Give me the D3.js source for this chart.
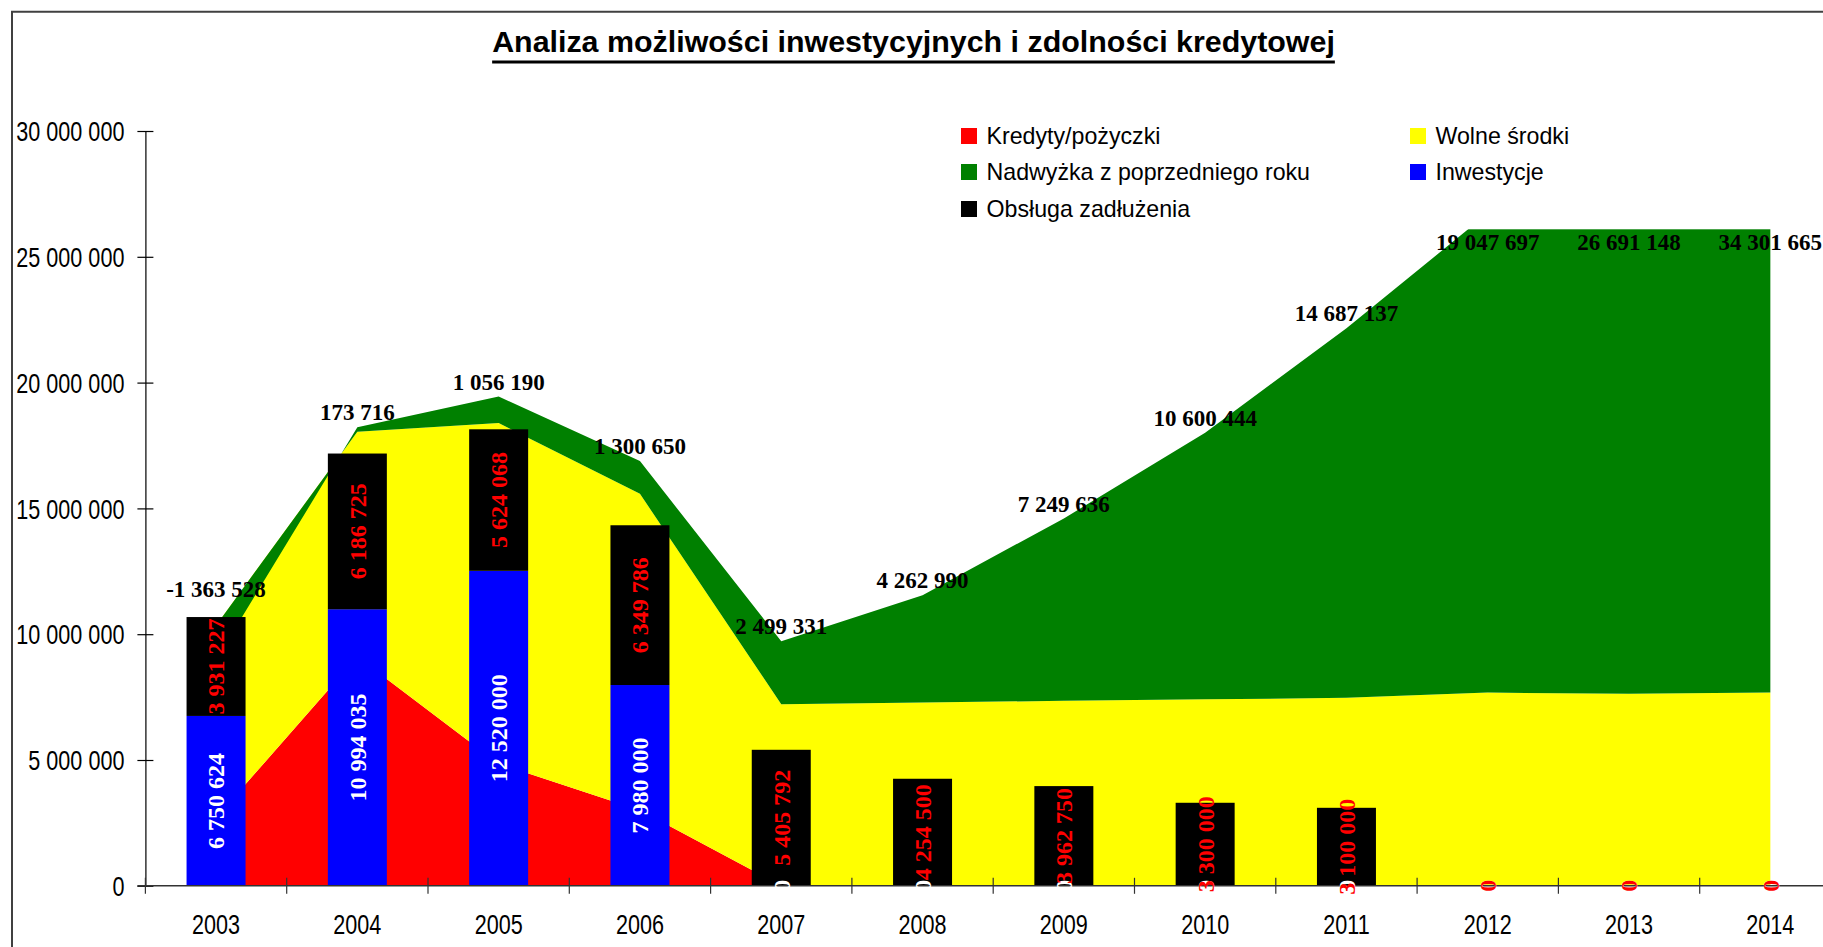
<!DOCTYPE html>
<html>
<head>
<meta charset="utf-8">
<script src="https://cdn.jsdelivr.net/npm/d3@7"></script>
<style>
  html, body { margin: 0; padding: 0; background: #fff; overflow: hidden; }
  svg { display: block; }
</style>
</head>
<body>
<svg id="chart" width="1823" height="947"></svg>
<script>
// ---------------- DATA ----------------
const categories = ["2003","2004","2005","2006","2007","2008","2009","2010","2011","2012","2013","2014"];
const kredyty    = [2700000, 9100000, 4850000, 3000000, 0, 0, 0, 0, 0, 0, 0, 0];
const wolneSrodki = [7650000, 8950000, 13540000, 12580000, 7220000, 7290000, 7350000, 7410000, 7470000, 7680000, 7630000, 7680000];
const nadwyzka   = [-1363528, 173716, 1056190, 1300650, 2499331, 4262990, 7249636, 10600444, 14687137, 19047697, 26691148, 34301665];
const inwestycje = [6750624, 10994035, 12520000, 7980000, 0, 0, 0, 0, 0, 0, 0, 0];
const obsluga    = [3931227, 6186725, 5624068, 6349786, 5405792, 4254500, 3962750, 3300000, 3100000, 0, 0, 0];
const yTicks     = [0, 5000000, 10000000, 15000000, 20000000, 25000000, 30000000];
const seriesNames = {
  kredyty: "Kredyty/pożyczki",
  wolne: "Wolne środki",
  nadwyzka: "Nadwyżka z poprzedniego roku",
  inwestycje: "Inwestycje",
  obsluga: "Obsługa zadłużenia"
};
const titleText = "Analiza możliwości inwestycyjnych i zdolności kredytowej";

// ---------------- STYLE / LAYOUT ----------------
const W = 1823, H = 947;
const colors = { kredyty: "#FF0000", wolne: "#FFFF00", nadwyzka: "#008000", inwestycje: "#0000FF", obsluga: "#000000" };
const plot = { left: 145.4, right: 1841, top: 131, bottom: 885.8 };
const sansFont = "'Liberation Sans', Arial, sans-serif";
const serifFont = "'Liberation Serif', 'Times New Roman', serif";
const narrowScale = 0.8; // Arial Narrow look: Arial squeezed horizontally

const fmt = d3.formatLocale({ decimal: ",", thousands: " ", grouping: [3], currency: ["", ""], minus: "-" }).format(",");

const svg = d3.select("#chart");
svg.append("rect").attr("width", W).attr("height", H).attr("fill", "#fff");

// scales
const x = d3.scaleBand().domain(categories).range([plot.left, plot.right]).padding(0);
const cx = c => x(c) + x.bandwidth() / 2;
const barW = x.bandwidth() * 0.4175;
const y = d3.scaleLinear().domain([0, 30000000]).range([plot.bottom, plot.top]);

svg.append("clipPath").attr("id", "plotClip").append("rect")
  .attr("x", plot.left).attr("y", y(30000000)).attr("width", plot.right - plot.left).attr("height", H - y(30000000));

// ---------------- AREAS ----------------
const areaRows = categories.map((c, i) => ({ cat: c, kredyty: kredyty[i], wolne: wolneSrodki[i], nadwyzka: nadwyzka[i] }));
const areaStack = d3.stack().keys(["kredyty", "wolne", "nadwyzka"]).offset(d3.stackOffsetNone)(areaRows);
const area = d3.area().x(d => cx(d.data.cat)).y0(d => y(d[0])).y1(d => y(d[1]));

svg.append("g").attr("clip-path", "url(#plotClip)").selectAll("path").data(areaStack).join("path")
  .attr("d", area).attr("fill", d => colors[d.key]).attr("stroke", "none");

// ---------------- BARS ----------------
const barRows = categories.map((c, i) => ({ cat: c, inwestycje: inwestycje[i], obsluga: obsluga[i] }));
const barStack = d3.stack().keys(["inwestycje", "obsluga"])(barRows);
const gBars = svg.append("g");
barStack.forEach(s => {
  gBars.append("g").selectAll("rect").data(s).join("rect")
    .attr("x", d => cx(d.data.cat) - barW / 2)
    .attr("width", barW)
    .attr("y", d => y(d[1]))
    .attr("height", d => y(d[0]) - y(d[1]))
    .attr("fill", colors[s.key]);
});

// ---------------- LEGEND (white box, covers area above its bottom) ----------------
const legend = { x: 945, y: 100, w: 900, h: 129.3, col: [961, 1410], row: [136, 172, 209], sq: 16 };
svg.append("rect").attr("x", legend.x).attr("y", legend.y).attr("width", legend.w).attr("height", legend.h).attr("fill", "#fff");
const legendItems = ["kredyty", "wolne", "nadwyzka", "inwestycje", "obsluga"];
const gLeg = svg.append("g");
legendItems.forEach((k, i) => {
  const lx = legend.col[i % 2], ly = legend.row[Math.floor(i / 2)];
  gLeg.append("rect").attr("x", lx).attr("y", ly - legend.sq / 2).attr("width", legend.sq).attr("height", legend.sq).attr("fill", colors[k]);
  gLeg.append("text").attr("x", lx + 25.5).attr("y", ly).attr("dy", "0.35em")
    .attr("font-family", sansFont).attr("font-size", 23.2).attr("fill", "#000").text(seriesNames[k]);
});

// ---------------- AXES ----------------
const gy = svg.append("g").attr("transform", `translate(${plot.left},0)`)
  .call(d3.axisLeft(y).tickValues(yTicks).tickFormat(fmt).tickSizeInner(8).tickSizeOuter(0).tickPadding(13));
gy.select(".domain").attr("stroke", "#000").attr("stroke-width", 1.2);
gy.selectAll(".tick line").attr("x1", 8).attr("stroke", "#000").attr("stroke-width", 1.2);
gy.selectAll(".tick text").each(function () {
  const t = d3.select(this);
  const tx = +t.attr("x");
  t.attr("x", 0).attr("transform", `translate(${tx},0) scale(${narrowScale},1)`);
}).attr("font-family", sansFont).attr("font-size", 27).attr("fill", "#000").attr("dy", "0.36em");

// x axis
const gx = svg.append("g").attr("transform", `translate(0,${plot.bottom})`);
gx.append("line").attr("x1", plot.left - 8).attr("x2", W).attr("y1", 0).attr("y2", 0).attr("stroke", "#333").attr("stroke-width", 1.6);
const edges = categories.map(c => x(c)).concat([x.range()[1]]);
gx.selectAll("line.tk").data(edges).join("line").attr("class", "tk")
  .attr("x1", d => d).attr("x2", d => d).attr("y1", -8).attr("y2", 8).attr("stroke", "#333").attr("stroke-width", 1.2);
gx.selectAll("text").data(categories).join("text")
  .attr("transform", d => `translate(${cx(d)},29.5) scale(${narrowScale},1)`)
  .attr("dy", "0.71em").attr("text-anchor", "middle")
  .attr("font-family", sansFont).attr("font-size", 27).attr("fill", "#000").text(d => d);

// ---------------- BAR LABELS ----------------
const gBL = svg.append("g");
const labelColor = { inwestycje: "#FFFFFF", obsluga: "#FF0000" };
barStack.forEach(s => {
  gBL.append("g").selectAll("text").data(s).join("text")
    .attr("transform", d => `translate(${cx(d.data.cat)},${y((d[0] + d[1]) / 2)}) rotate(-90)`)
    .attr("text-anchor", "middle").attr("dy", "0.35em")
    .attr("font-family", serifFont).attr("font-weight", "bold").attr("font-size", 24)
    .attr("fill", labelColor[s.key])
    .text(d => fmt(d.data[s.key]));
});

// ---------------- AREA (Nadwyżka) LABELS ----------------
// placed above the top of the stacked area, clear of the bar top, kept below the legend
const green = areaStack[2];
const barTops = barStack[1];
const labelMinY = legend.y + legend.h + 13;
svg.append("g").selectAll("text").data(green).join("text")
  .attr("x", d => cx(d.data.cat))
  .attr("y", (d, i) => Math.max(labelMinY, Math.min(y(Math.max(d[0], d[1])) - 15, y(barTops[i][1]) - 28)))
  .attr("dy", "0.35em").attr("text-anchor", "middle")
  .attr("font-family", serifFont).attr("font-weight", "bold").attr("font-size", 23).attr("fill", "#000")
  .text(d => fmt(d.data.nadwyzka));

// ---------------- TITLE ----------------
const title = svg.append("text").attr("x", 913.5).attr("y", 52).attr("text-anchor", "middle")
  .attr("font-family", sansFont).attr("font-weight", "bold").attr("font-size", 30.4).attr("fill", "#000").text(titleText);
const tw = title.node().getComputedTextLength();
svg.append("line").attr("x1", 913.5 - tw / 2).attr("x2", 913.5 + tw / 2).attr("y1", 62).attr("y2", 62).attr("stroke", "#000").attr("stroke-width", 3);

// ---------------- FRAME ----------------
svg.append("path").attr("d", `M12,${H} V11.7 H${W}`).attr("fill", "none").attr("stroke", "#404040").attr("stroke-width", 2);
</script>
</body>
</html>
